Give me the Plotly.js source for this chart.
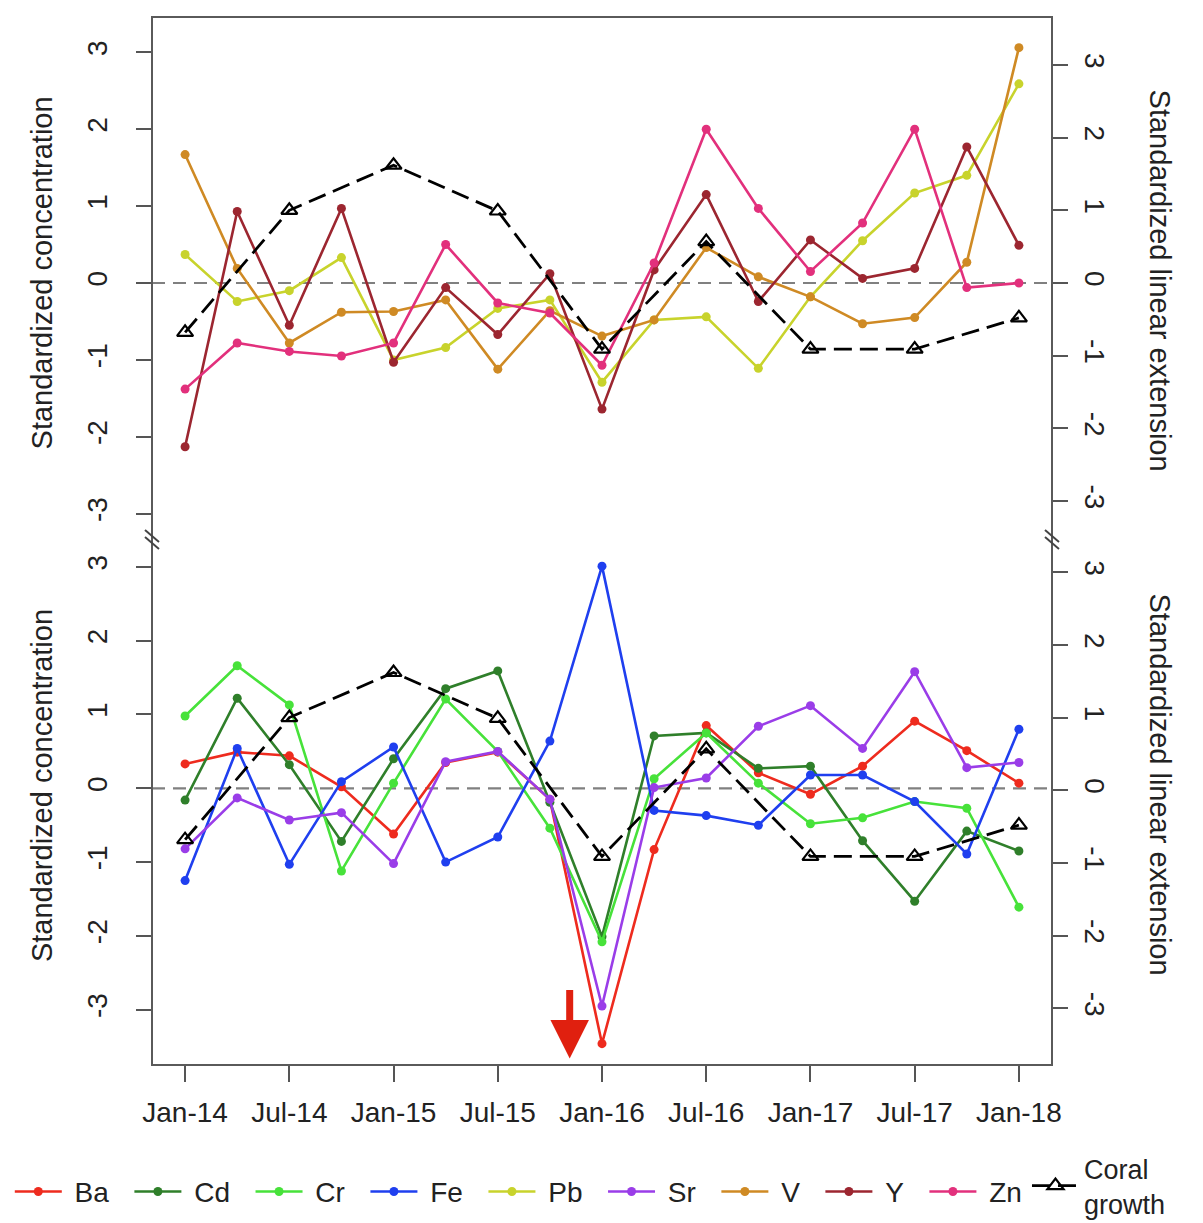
<!DOCTYPE html>
<html>
<head>
<meta charset="utf-8">
<script src="https://cdn.plot.ly/plotly-3.0.1.min.js"></script>
<style>
  html, body { margin: 0; padding: 0; background: #fff; }
  #chart { width: 1203px; height: 1223px; }
</style>
</head>
<body>
<div id="chart"></div>
<script>
// Quarterly sampling dates and the half-yearly coral growth dates
const quarters = ['Jan-14','Apr-14','Jul-14','Oct-14','Jan-15','Apr-15','Jul-15','Oct-15',
                  'Jan-16','Apr-16','Jul-16','Oct-16','Jan-17','Apr-17','Jul-17','Oct-17','Jan-18'];
const halfYears = ['Jan-14','Jul-14','Jan-15','Jul-15','Jan-16','Jul-16','Jan-17','Jul-17','Jan-18'];
const yTicks = [-3, -2, -1, 0, 1, 2, 3];

// Standardized element concentrations (lower panel)
const ba = [0.33, 0.49, 0.44, 0.02, -0.62, 0.35, 0.49, -0.15, -3.46, -0.83, 0.85, 0.21, -0.08, 0.30, 0.91, 0.51, 0.07];
const cd = [-0.16, 1.22, 0.32, -0.72, 0.40, 1.35, 1.59, -0.19, -2.01, 0.71, 0.75, 0.27, 0.30, -0.71, -1.53, -0.58, -0.85];
const cr = [0.98, 1.66, 1.13, -1.12, 0.07, 1.21, 0.50, -0.54, -2.08, 0.13, 0.75, 0.07, -0.48, -0.40, -0.18, -0.27, -1.61];
const fe = [-1.25, 0.54, -1.03, 0.09, 0.56, -1.00, -0.66, 0.64, 3.01, -0.30, -0.37, -0.50, 0.18, 0.18, -0.18, -0.89, 0.80];
const sr = [-0.82, -0.13, -0.43, -0.33, -1.02, 0.36, 0.50, -0.15, -2.95, 0.01, 0.14, 0.84, 1.12, 0.54, 1.58, 0.28, 0.35];

// Standardized element concentrations (upper panel)
const pb = [0.37, -0.24, -0.10, 0.33, -1.00, -0.84, -0.33, -0.22, -1.29, -0.48, -0.44, -1.11, -0.18, 0.55, 1.17, 1.40, 2.59];
const v  = [1.67, 0.19, -0.78, -0.38, -0.37, -0.22, -1.12, -0.36, -0.69, -0.48, 0.46, 0.08, -0.18, -0.53, -0.45, 0.27, 3.06];
const yt = [-2.13, 0.93, -0.55, 0.97, -1.03, -0.06, -0.67, 0.12, -1.64, 0.17, 1.15, -0.24, 0.56, 0.06, 0.19, 1.77, 0.49];
const zn = [-1.38, -0.78, -0.89, -0.95, -0.78, 0.50, -0.26, -0.39, -1.07, 0.26, 2.00, 0.97, 0.15, 0.78, 2.00, -0.06, 0.00];

// Standardized coral linear extension (both panels, right axes)
const coral = [-0.68, 1.00, 1.62, 0.99, -0.91, 0.57, -0.91, -0.91, -0.48];

// Event marker position (fractional quarter index) for the red arrow
const eventAt = 7.38;
const eventTip = -3.66;

const FONT = 'Liberation Sans, Arial, Helvetica, sans-serif';
const TXT = '#222222';
const NB = '\u00a0';

function elementTrace(name, vals, color, axis) {
  return {
    type: 'scatter', mode: 'lines+markers', name: NB + name + NB + NB,
    x: quarters, y: vals, xaxis: 'x', yaxis: axis, legend: 'legend',
    line: { color: color, width: 2.6 },
    marker: { color: color, size: 9, symbol: 'circle' }
  };
}

function coralTrace(axis, show) {
  return {
    type: 'scatter', mode: 'lines+markers', name: 'Coral<br>growth',
    x: halfYears, y: coral, xaxis: 'x', yaxis: axis, showlegend: show,
    legend: 'legend2', legendgroup: 'coral',
    line: { color: '#000000', width: 2.8, dash: '18px,8px' },
    marker: { color: '#000000', size: 14, symbol: 'triangle-up-open',
              line: { color: '#000000', width: 2.2 } }
  };
}

const traces = [
  elementTrace('Ba', ba, '#EE2B1E', 'y3'),
  elementTrace('Cd', cd, '#2F7F2A', 'y3'),
  elementTrace('Cr', cr, '#47E23A', 'y3'),
  elementTrace('Fe', fe, '#1F3FEF', 'y3'),
  elementTrace('Pb', pb, '#C8D32C', 'y'),
  elementTrace('Sr', sr, '#9A3DE8', 'y3'),
  elementTrace('V',  v,  '#CF8A24', 'y'),
  elementTrace('Y',  yt, '#9C2630', 'y'),
  elementTrace('Zn', zn, '#E2307C', 'y'),
  coralTrace('y2', true),
  coralTrace('y4', false)
];

// Plot area in pixels: x 152..1052, y 17..1065; panels split at 542
const split = (1065 - 542) / 1048;

function yAxis(range, domain, side, angle, standoff, extra) {
  return Object.assign({
    range: range, domain: domain, side: side, anchor: 'x',
    tickmode: 'array', tickvals: yTicks, ticktext: yTicks.map(String),
    ticks: 'outside', ticklen: 15, tickwidth: 2, tickcolor: '#555555',
    tickangle: angle, ticklabelstandoff: standoff,
    tickfont: { family: FONT, size: 28, color: TXT },
    showgrid: false, zeroline: false, showline: false, fixedrange: true
  }, extra || {});
}

const legendFont = { family: FONT, size: 28, color: TXT };
const titleFont = { family: FONT, size: 29, color: TXT };

const layout = {
  width: 1203, height: 1223,
  margin: { l: 152, r: 151, t: 17, b: 158, pad: 0, autoexpand: false },
  paper_bgcolor: '#ffffff', plot_bgcolor: '#ffffff',
  font: { family: FONT, size: 28, color: TXT },
  showlegend: true,
  xaxis: {
    type: 'category', categoryorder: 'array', categoryarray: quarters,
    range: [-0.635, 16.635], anchor: 'y3', domain: [0, 1],
    tickmode: 'array', tickvals: halfYears, ticktext: halfYears,
    ticks: 'outside', ticklen: 16, tickwidth: 2, tickcolor: '#555555',
    tickangle: 0, ticklabelstandoff: 6,
    tickfont: { family: FONT, size: 28, color: TXT },
    showgrid: false, zeroline: false, showline: false, fixedrange: true
  },
  yaxis:  yAxis([-3.368, 3.459], [split, 1], 'left', -90, 18),
  yaxis2: yAxis([-3.563, 3.659], [split, 1], 'right', 90, 6, { overlaying: 'y' }),
  yaxis3: yAxis([-3.749, 3.337], [0, split], 'left', -90, 18),
  yaxis4: yAxis([-3.779, 3.415], [0, split], 'right', 90, 6, { overlaying: 'y3' }),
  legend: {
    orientation: 'h', x: -0.158, xanchor: 'left', y: -0.121, yanchor: 'middle',
    font: legendFont, itemwidth: 47, bgcolor: 'rgba(0,0,0,0)', traceorder: 'normal',
    itemclick: false, itemdoubleclick: false
  },
  legend2: {
    orientation: 'h', x: 0.9722, xanchor: 'left', y: -0.1155, yanchor: 'middle',
    font: { family: FONT, size: 27, color: TXT }, itemwidth: 47, bgcolor: 'rgba(0,0,0,0)',
    itemclick: false, itemdoubleclick: false
  },
  shapes: [
    // zero reference lines
    { type: 'line', xref: 'paper', x0: 0, x1: 1, yref: 'y', y0: 0, y1: 0,
      line: { color: '#808080', width: 2.2, dash: '13px,8px' }, layer: 'below' },
    { type: 'line', xref: 'paper', x0: 0, x1: 1, yref: 'y3', y0: 0, y1: 0,
      line: { color: '#808080', width: 2.2, dash: '13px,8px' }, layer: 'below' },
    // frame around both panels
    { type: 'rect', xref: 'paper', yref: 'paper', x0: 0, x1: 1, y0: 0, y1: 1,
      line: { color: '#5a5a5a', width: 2 }, fillcolor: 'rgba(0,0,0,0)' }
  ],
  annotations: [
    { xref: 'paper', yref: 'paper', x: -0.1222, y: 0.7553, xanchor: 'center', yanchor: 'middle',
      text: 'Standardized concentration', textangle: -90, showarrow: false, font: titleFont },
    { xref: 'paper', yref: 'paper', x: -0.1222, y: 0.2662, xanchor: 'center', yanchor: 'middle',
      text: 'Standardized concentration', textangle: -90, showarrow: false, font: titleFont },
    { xref: 'paper', yref: 'paper', x: 1.1205, y: 0.7481, xanchor: 'center', yanchor: 'middle',
      text: 'Standardized linear extension', textangle: 90, showarrow: false, font: titleFont },
    { xref: 'paper', yref: 'paper', x: 1.1205, y: 0.2672, xanchor: 'center', yanchor: 'middle',
      text: 'Standardized linear extension', textangle: 90, showarrow: false, font: titleFont },
    // red arrow marking the event
    { xref: 'x', yref: 'y3', x: eventAt, y: eventTip, ax: 0, ay: -70,
      text: '', showarrow: true, arrowhead: 2, arrowsize: 1.1, arrowwidth: 7,
      arrowcolor: '#E0200F' }
  ]
};

// axis break marks on both sides of the frame
[0, 1].forEach(function (xp) {
  [6, -1].forEach(function (off) {
    layout.shapes.push({
      type: 'line', xref: 'paper', yref: 'paper',
      x0: xp - 7 / 900, x1: xp + 7 / 900,
      y0: split + (off + 6) / 1048, y1: split + (off - 6) / 1048,
      line: { color: '#444444', width: 2 }
    });
  });
});

Plotly.newPlot('chart', traces, layout, { displayModeBar: false, staticPlot: true });
</script>
</body>
</html>
